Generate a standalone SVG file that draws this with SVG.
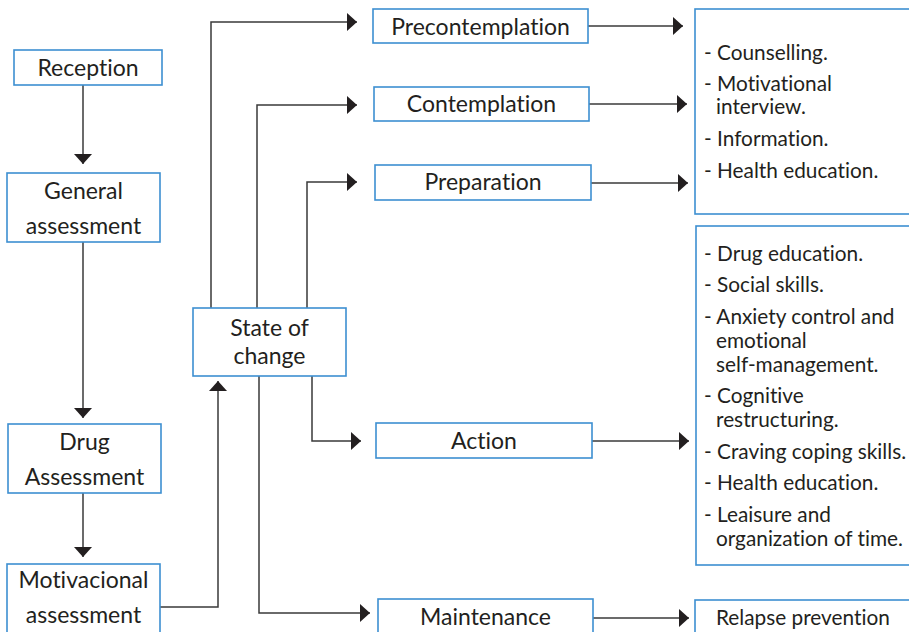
<svg xmlns="http://www.w3.org/2000/svg" width="909" height="632" viewBox="0 0 909 632">
<style>
.box{fill:#fff;stroke:#3d8fd1;stroke-width:1.6}
.t{font-family:Lato,"Noto Sans","DejaVu Sans",sans-serif;font-size:23px;fill:#231f20;font-variant-ligatures:none}
.c{text-anchor:middle}
.l{font-family:Lato,"Noto Sans","DejaVu Sans",sans-serif;font-size:20.8px;fill:#231f20;font-variant-ligatures:none}
.w{fill:none;stroke:#3a3a3a;stroke-width:1.5}
</style>
<defs>
<marker id="ah" markerUnits="userSpaceOnUse" markerWidth="11" markerHeight="19" refX="10" refY="9" orient="auto">
<path d="M0,0 L10,9 L0,18 Z" fill="#231f20"/>
</marker>
</defs>
<rect width="909" height="632" fill="#fff"/>
<g id="connectors">
<path class="w" d="M83,85 V164" marker-end="url(#ah)"/>
<path class="w" d="M83,242 V418" marker-end="url(#ah)"/>
<path class="w" d="M83,493 V557" marker-end="url(#ah)"/>
<path class="w" d="M160,607 H218 V381" marker-end="url(#ah)"/>
<path class="w" d="M211,308 V22 H357" marker-end="url(#ah)"/>
<path class="w" d="M257,308 V105 H357" marker-end="url(#ah)"/>
<path class="w" d="M307,308 V182 H357" marker-end="url(#ah)"/>
<path class="w" d="M312,376 V441 H361" marker-end="url(#ah)"/>
<path class="w" d="M259,376 V613 H370" marker-end="url(#ah)"/>
<path class="w" d="M588,26 H683" marker-end="url(#ah)"/>
<path class="w" d="M589,104 H687" marker-end="url(#ah)"/>
<path class="w" d="M591,183 H688" marker-end="url(#ah)"/>
<path class="w" d="M592,441 H689" marker-end="url(#ah)"/>
<path class="w" d="M593,618 H689" marker-end="url(#ah)"/>
</g>
<g id="reception"><rect class="box" x="14" y="50" width="148" height="35"/><text class="t c" x="88" y="76">Reception</text></g>
<g id="general-assessment"><rect class="box" x="7" y="173" width="153" height="69"/><text class="t c" x="83.5" y="199">General</text><text class="t c" x="83.5" y="234">assessment</text></g>
<g id="drug-assessment"><rect class="box" x="8" y="424" width="153" height="69"/><text class="t c" x="84.5" y="450">Drug</text><text class="t c" x="84.5" y="485">Assessment</text></g>
<g id="motivacional-assessment"><rect class="box" x="7" y="564" width="153" height="80"/><text class="t c" x="83.5" y="588">Motivacional</text><text class="t c" x="83.5" y="623">assessment</text></g>
<g id="state-of-change"><rect class="box" x="193" y="308" width="153" height="68"/><text class="t c" x="269.5" y="336">State of</text><text class="t c" x="269.5" y="364">change</text></g>
<g id="precontemplation"><rect class="box" x="373" y="9" width="215" height="34"/><text class="t c" x="480.5" y="35">Precontemplation</text></g>
<g id="contemplation"><rect class="box" x="374" y="87" width="215" height="34"/><text class="t c" x="481.5" y="112">Contemplation</text></g>
<g id="preparation"><rect class="box" x="375" y="165" width="216" height="35"/><text class="t c" x="483" y="190">Preparation</text></g>
<g id="action"><rect class="box" x="376" y="423" width="216" height="35"/><text class="t c" x="484" y="449">Action</text></g>
<g id="maintenance"><rect class="box" x="378" y="599" width="215" height="45"/><text class="t c" x="485.5" y="625">Maintenance</text></g>
<g id="interventions-early"><rect class="box" x="695" y="9" width="225" height="205"/>
<text class="l" x="704" y="60">- Counselling.</text>
<text class="l" x="704" y="91">- Motivational</text>
<text class="l" x="716" y="114">interview.</text>
<text class="l" x="704" y="146">- Information.</text>
<text class="l" x="704" y="178">- Health education.</text>
</g>
<g id="interventions-action"><rect class="box" x="696" y="226" width="225" height="339"/>
<text class="l" x="704" y="261">- Drug education.</text>
<text class="l" x="704" y="292">- Social skills.</text>
<text class="l" x="704" y="324">- Anxiety control and</text>
<text class="l" x="716" y="348">emotional</text>
<text class="l" x="716" y="372">self-management.</text>
<text class="l" x="704" y="403">- Cognitive</text>
<text class="l" x="716" y="427">restructuring.</text>
<text class="l" x="704" y="459">- Craving coping skills.</text>
<text class="l" x="704" y="490">- Health education.</text>
<text class="l" x="704" y="522">- Leaisure and</text>
<text class="l" x="716" y="546">organization of time.</text>
</g>
<g id="relapse-prevention"><rect class="box" x="695" y="600" width="225" height="45"/><text class="l" x="716" y="625">Relapse prevention</text></g>
</svg>
